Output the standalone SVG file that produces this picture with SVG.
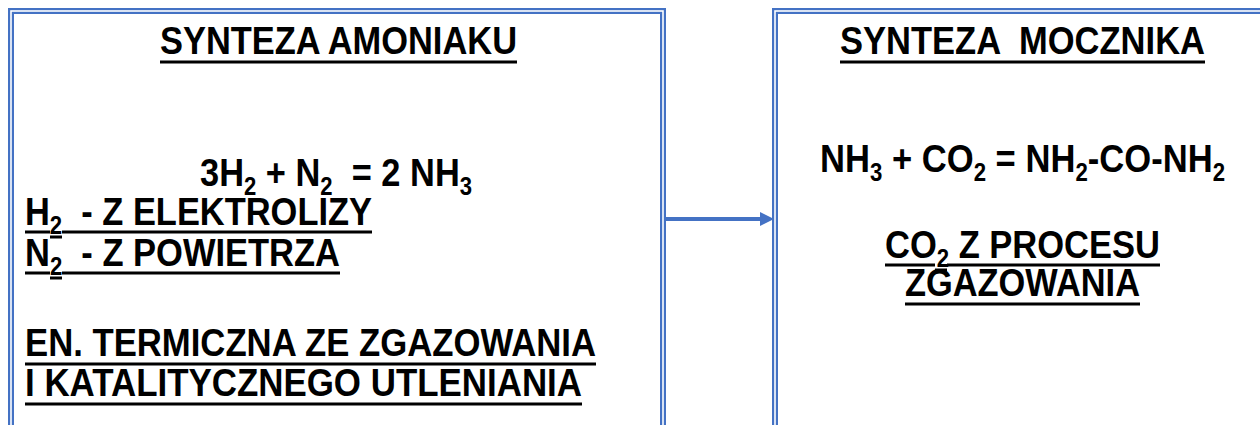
<svg xmlns="http://www.w3.org/2000/svg" width="1260" height="425" viewBox="0 0 1260 425">
<style>
.bo{fill:#fff;stroke:#4472C4;stroke-width:6}
.bi{fill:none;stroke:#fff;stroke-width:1.6}
.t{font-family:"Liberation Sans",Arial,sans-serif;font-weight:bold;font-size:39px;fill:#000;white-space:pre}
.s{font-size:25px}
.u{stroke:#000;stroke-width:3}
.c{stroke:#4472C4;stroke-width:4;fill:none}
</style>
<defs>
<marker id="ah" markerWidth="14" markerHeight="14" refX="0" refY="7" orient="auto" markerUnits="userSpaceOnUse" viewBox="0 0 14 14">
<path d="M0,0 L14,7 L0,14 z" fill="#4472C4"/>
</marker>
</defs>
<g id="amoniak">
<rect class="bo" x="11" y="11" width="652" height="440"/>
<rect class="bi" x="11" y="11" width="652" height="440"/>
<text class="t" x="160" y="54" textLength="357" lengthAdjust="spacingAndGlyphs">SYNTEZA AMONIAKU</text>
<line class="u" x1="160" y1="62" x2="517" y2="62"/>
<text class="t" x="200" y="186" textLength="272" lengthAdjust="spacingAndGlyphs">3H<tspan class="s" dy="9">2</tspan><tspan dy="-9"> + N</tspan><tspan class="s" dy="9">2</tspan><tspan dy="-9">  = 2 NH</tspan><tspan class="s" dy="9">3</tspan></text>
<text class="t" x="25" y="225" textLength="347" lengthAdjust="spacingAndGlyphs">H<tspan class="s" dy="9">2</tspan><tspan dy="-9">  - Z ELEKTROLIZY</tspan></text>
<path class="u" d="M25,232H50M50,237H62M62,232H372"/>
<text class="t" x="25" y="266" textLength="315" lengthAdjust="spacingAndGlyphs">N<tspan class="s" dy="9">2</tspan><tspan dy="-9">  - Z POWIETRZA</tspan></text>
<path class="u" d="M25,273H50M50,278H62M62,273H340"/>
<text class="t" x="25" y="356" textLength="571" lengthAdjust="spacingAndGlyphs">EN. TERMICZNA ZE ZGAZOWANIA</text>
<line class="u" x1="25" y1="364" x2="596" y2="364"/>
<text class="t" x="25" y="396" textLength="557" lengthAdjust="spacingAndGlyphs">I KATALITYCZNEGO UTLENIANIA</text>
<line class="u" x1="25" y1="404" x2="582" y2="404"/>
</g>
<g id="mocznik">
<rect class="bo" x="775" y="11" width="500" height="440"/>
<rect class="bi" x="775" y="11" width="500" height="440"/>
<text class="t" x="840" y="54" textLength="365" lengthAdjust="spacingAndGlyphs">SYNTEZA  MOCZNIKA</text>
<line class="u" x1="840" y1="62" x2="1205" y2="62"/>
<text class="t" x="820" y="172" textLength="405" lengthAdjust="spacingAndGlyphs">NH<tspan class="s" dy="9">3</tspan><tspan dy="-9"> + CO</tspan><tspan class="s" dy="9">2</tspan><tspan dy="-9"> = NH</tspan><tspan class="s" dy="9">2</tspan><tspan dy="-9">-CO-NH</tspan><tspan class="s" dy="9">2</tspan></text>
<text class="t" x="885" y="258" textLength="275" lengthAdjust="spacingAndGlyphs">CO<tspan class="s" dy="9">2</tspan><tspan dy="-9"> Z PROCESU</tspan></text>
<path class="u" d="M885,265H935M935,270H947M947,265H1160"/>
<text class="t" x="905" y="296" textLength="235" lengthAdjust="spacingAndGlyphs">ZGAZOWANIA</text>
<line class="u" x1="905" y1="304" x2="1140" y2="304"/>
</g>
<g id="connectors">
<line class="c" x1="665" y1="219" x2="760" y2="219" marker-end="url(#ah)"/>
</g>
</svg>
